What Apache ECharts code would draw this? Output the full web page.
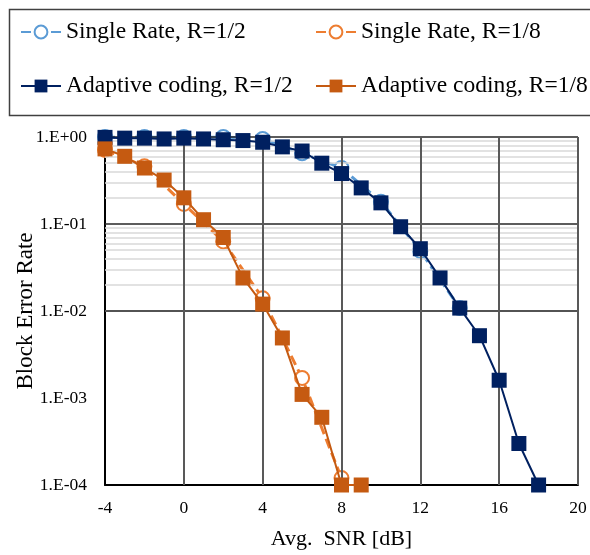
<!DOCTYPE html>
<html>
<head>
<meta charset="utf-8">
<script src="https://cdn.jsdelivr.net/npm/echarts@6/dist/echarts.min.js"></script>
<style>
html,body{margin:0;padding:0;background:#fff;}
#chart{width:590px;height:555px;}
</style>
</head>
<body>
<div id="chart"></div>
<script>
// ---- data ----
const seriesNames = ['Single Rate, R=1/2', 'Single Rate, R=1/8', 'Adaptive coding, R=1/2', 'Adaptive coding, R=1/8'];
const snrSingle12 = [-4, -2, 0, 2, 4, 6, 8, 10, 12, 14];
const blerSingle12 = [1.0, 1.0, 1.0, 1.0, 0.95, 0.65, 0.44, 0.18, 0.049, 0.0108];
const snrSingle18 = [-4, -2, 0, 2, 4, 6, 8];
const blerSingle18 = [0.71, 0.46, 0.17, 0.063, 0.014, 0.0017, 0.00012];
const snrAdaptive12 = [-4, -3, -2, -1, 0, 1, 2, 3, 4, 5, 6, 7, 8, 9, 10, 11, 12, 13, 14, 15, 16, 17, 18];
const blerAdaptive12 = [0.99, 0.97, 0.97, 0.95, 0.97, 0.95, 0.93, 0.91, 0.87, 0.77, 0.69, 0.50, 0.38, 0.26, 0.175, 0.093, 0.052, 0.024, 0.0108, 0.0052, 0.0016, 0.0003, 0.0001];
const snrAdaptive18 = [-4, -3, -2, -1, 0, 1, 2, 3, 4, 5, 6, 7, 8, 9];
const blerAdaptive18 = [0.73, 0.60, 0.44, 0.32, 0.20, 0.112, 0.070, 0.024, 0.012, 0.0049, 0.0011, 0.0006, 0.0001, 0.0001];
const xTicks = [-4, 0, 4, 8, 12, 16, 20];
const yDecades = [-4, -3, -2, -1, 0];
const minorMultipliers = [2, 3, 4, 5, 6, 7, 8, 9];

// ---- helpers ----
const pairs = (xs, ys) => xs.map((x, i) => [x, ys[i]]);
const minorStyle = { color: '#d9d9d9', width: 1.5, type: 'solid' };
const vMajorStyle = { color: '#595959', width: 2, type: 'solid' };
const hMajorStyle = { color: '#262626', width: 1.5, type: 'solid' };
const gridLines = [];
yDecades.slice(0, -1).forEach(d => minorMultipliers.forEach(m => gridLines.push({ yAxis: m * Math.pow(10, d), lineStyle: minorStyle })));
yDecades.forEach(d => gridLines.push({ yAxis: Math.pow(10, d), lineStyle: hMajorStyle }));
xTicks.slice(1).forEach(x => gridLines.push({ xAxis: x, lineStyle: vMajorStyle }));
const FONT = 'Liberation Serif';

const C = {
  s12: '#5B9BD5', s18: '#ED7D31', a12: '#002060', a18: '#C55A11'
};

function singleSeries(name, color, data) {
  return {
    name, type: 'line', data, z: 4,
    symbol: 'emptyCircle', symbolSize: 14,
    lineStyle: { color, width: 3, type: [10, 5] },
    itemStyle: { color, borderColor: color, borderWidth: 3 },
    emphasis: { disabled: true }
  };
}
function adaptiveSeries(name, color, data) {
  return {
    name, type: 'line', data, z: 5,
    symbol: 'rect', symbolSize: 15,
    lineStyle: { color, width: 2, type: 'solid' },
    itemStyle: { color, borderColor: color, borderWidth: 0 },
    emphasis: { disabled: true }
  };
}
function legendAt(name, left, top) {
  return {
    data: [name], left, top, orient: 'horizontal', padding: 0,
    itemWidth: 40, itemHeight: 16, itemGap: 5,
    selectedMode: false,
    textStyle: { fontFamily: FONT, fontSize: 23.5, color: '#000', padding: [0, 0, 0, 0] }
  };
}

const chart = echarts.init(document.getElementById('chart'), null, { renderer: 'canvas' });
chart.setOption({
  animation: false,
  backgroundColor: '#fff',
  graphic: [{
    type: 'rect', left: 7, top: 7, z: -1,
    shape: { width: 600, height: 106 },
    style: { fill: 'none', stroke: '#404040', lineWidth: 1.5 }
  }],
  legend: [
    legendAt(seriesNames[0], 20, 20),
    legendAt(seriesNames[1], 315, 20),
    legendAt(seriesNames[2], 20, 74),
    legendAt(seriesNames[3], 315, 74)
  ],
  grid: { left: 105, right: 12, top: 137, bottom: 68, containLabel: false },
  xAxis: {
    type: 'value', min: xTicks[0], max: xTicks[xTicks.length - 1], interval: 4, z: 3,
    name: 'Avg.  SNR [dB]', nameLocation: 'middle', nameGap: 43, nameMoveOverlap: false,
    nameTextStyle: { fontFamily: FONT, fontSize: 22, color: '#000' },
    axisLine: { show: true, onZero: false, lineStyle: { color: '#000', width: 2 } },
    axisTick: { show: false },
    axisLabel: { fontFamily: FONT, fontSize: 17.5, color: '#000', margin: 14 },
    splitLine: { show: false },
    minorSplitLine: { show: false }
  },
  yAxis: {
    type: 'log', logBase: 10, min: 1e-4, max: 1, z: 3,
    name: 'Block Error Rate', nameLocation: 'middle', nameGap: 68, nameMoveOverlap: false,
    nameTextStyle: { fontFamily: FONT, fontSize: 23, color: '#000' },
    axisLine: { show: true, onZero: false, lineStyle: { color: '#000', width: 2 } },
    axisTick: { show: false },
    axisLabel: {
      fontFamily: FONT, fontSize: 17.5, color: '#000', margin: 18,
      formatter: v => {
        const e = Math.round(Math.log10(v));
        return '1.E' + (e >= 0 ? '+' : '-') + String(Math.abs(e)).padStart(2, '0');
      }
    },
    splitLine: { show: false },
    minorSplitLine: { show: false }
  },
  series: [
    {
      name: 'grid-lines', type: 'line', data: [], z: 1, silent: true,
      markLine: {
        silent: true, symbol: ['none', 'none'], animation: false,
        label: { show: false },
        lineStyle: minorStyle,
        emphasis: { disabled: true },
        data: gridLines
      }
    },
    singleSeries(seriesNames[0], C.s12, pairs(snrSingle12, blerSingle12)),
    singleSeries(seriesNames[1], C.s18, pairs(snrSingle18, blerSingle18)),
    adaptiveSeries(seriesNames[2], C.a12, pairs(snrAdaptive12, blerAdaptive12)),
    adaptiveSeries(seriesNames[3], C.a18, pairs(snrAdaptive18, blerAdaptive18))
  ]
});
</script>
</body>
</html>
